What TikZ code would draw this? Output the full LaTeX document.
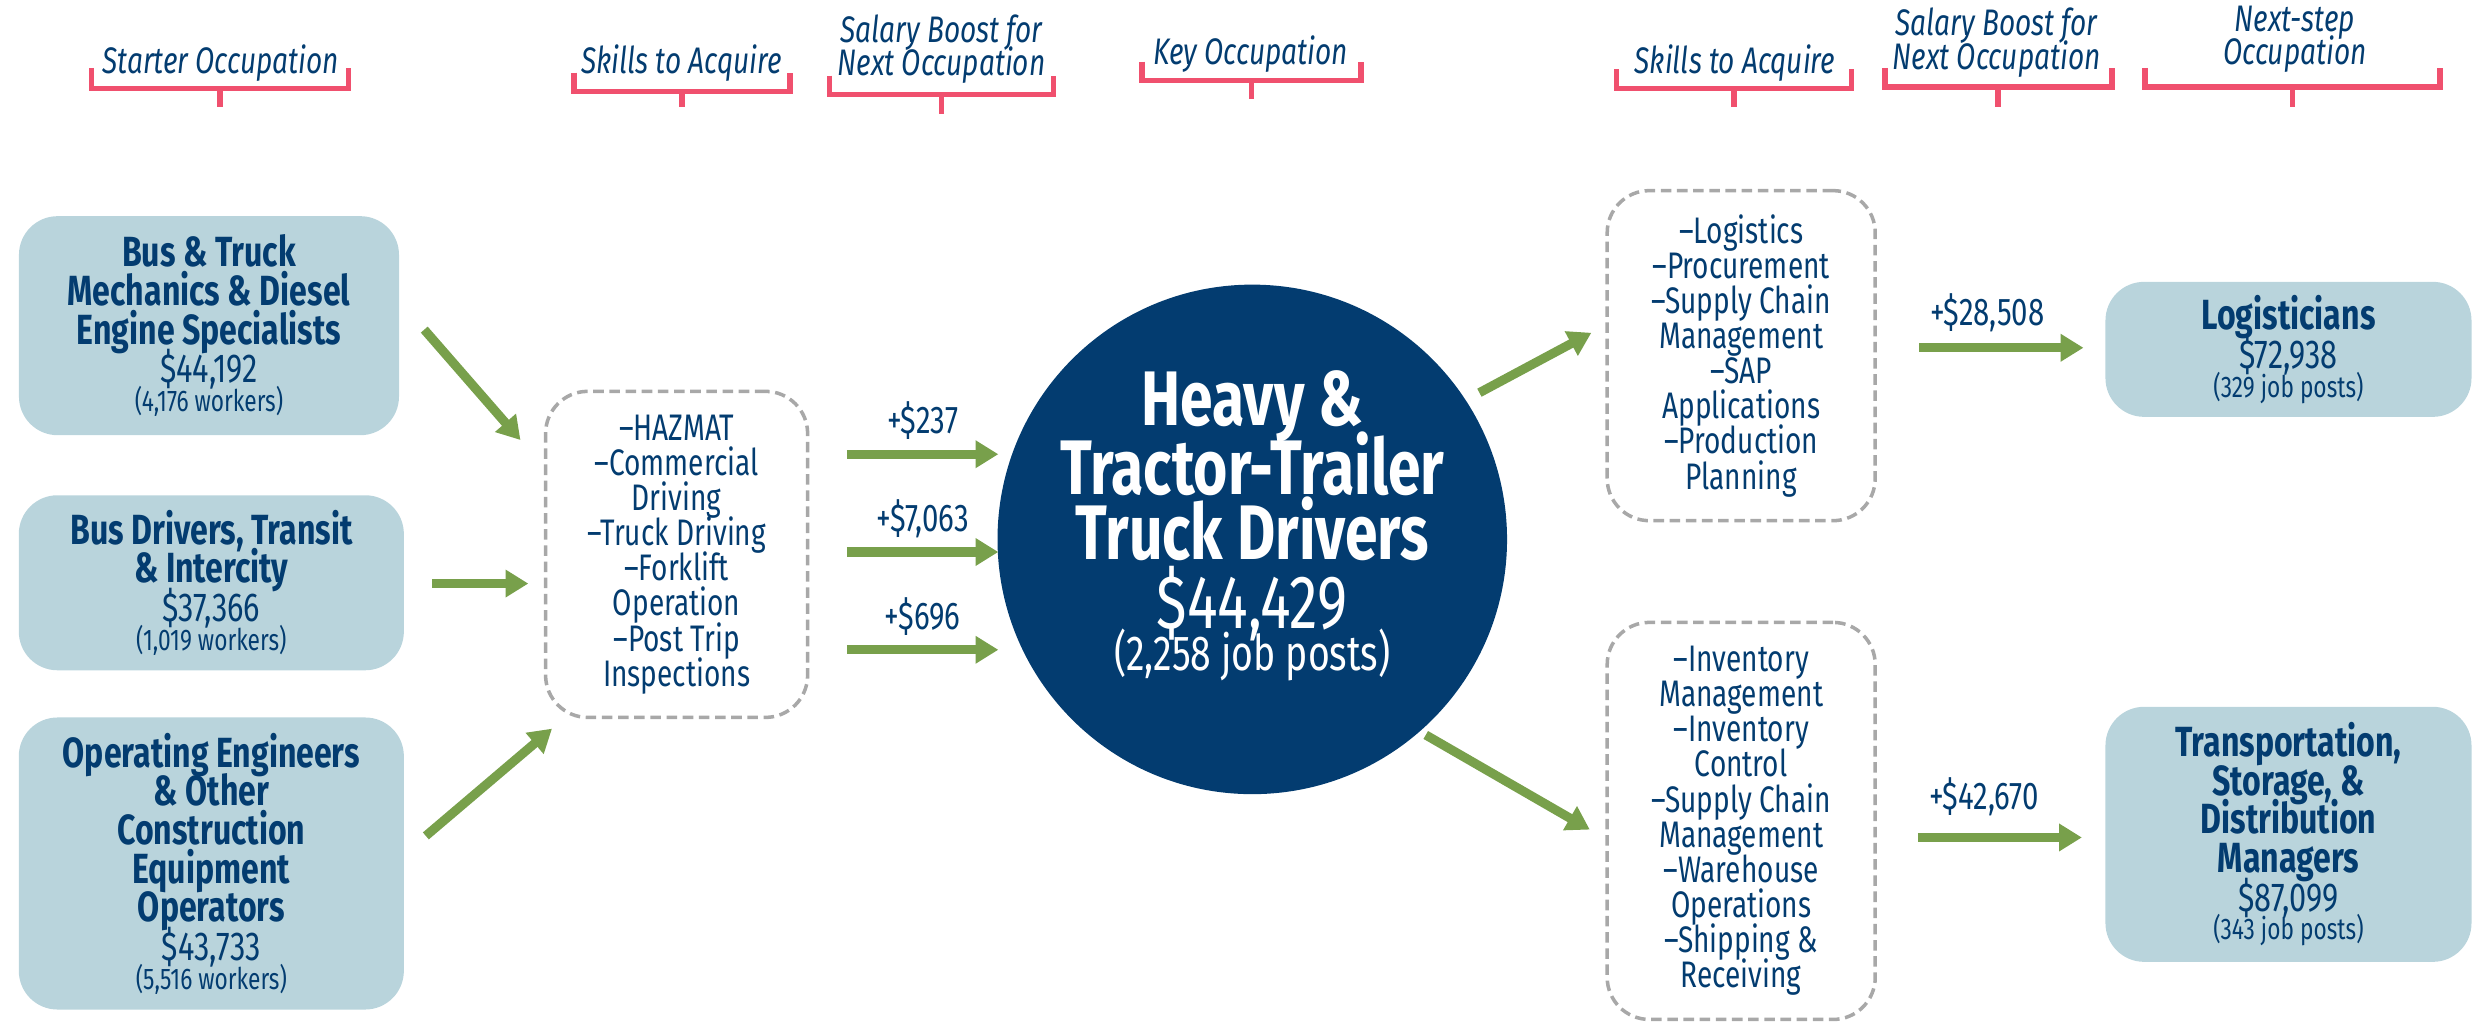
\documentclass[tikz,border=0pt]{standalone}
\usepackage{fontspec}
\setmainfont{Fira Sans}[FakeStretch=0.76]
\usetikzlibrary{arrows.meta}

\definecolor{navy}{HTML}{033C70}
\definecolor{boxblue}{HTML}{B9D4DC}
\definecolor{leafgreen}{HTML}{78A04B}
\definecolor{bracered}{HTML}{F0506E}
\definecolor{dashgray}{HTML}{A8A8A8}

% keep the line spacing fixed, also with tall glyphs
\lineskiplimit=-100pt

% line fonts
\newcommand{\nm}{\bfseries\fontsize{12}{11}\selectfont}
\newcommand{\pay}{\mdseries\fontsize{11.5}{11}\selectfont}
\newcommand{\cnt}{\mdseries\fontsize{8.5}{11}\selectfont}

\tikzset{
  occ/.style={fill=boxblue, rounded corners=11pt, text=navy, align=center, inner sep=0pt, font=\nm},
  skills/.style={draw=dashgray, dash pattern=on 3pt off 1.6pt, line width=1pt, rounded corners=12pt,
    text=navy, align=center, font=\fontsize{10.5}{10}\selectfont, inner sep=0pt},
  hub/.style={circle, fill=navy, text=white, align=center, inner sep=0pt,
    font=\bfseries\fontsize{22}{18.4}\selectfont},
  flow/.style={draw=leafgreen, line width=2.6pt, -{Triangle[length=6.5pt,width=7.5pt]}},
  boost/.style={text=navy, font=\fontsize{11}{12}\selectfont},
  hdr/.style={text=navy, font=\fontsize{10.5}{9.5}\selectfont\itshape, align=center},
  brace/.style={draw=bracered, line width=1.6pt},
}

\begin{document}
\begin{tikzpicture}[x=0.1577mm, y=-0.1577mm]
\useasboundingbox (0,0) rectangle (1568,648);

% ---- column headers
\node[hdr] (hstart) at (140,40) {Starter Occupation};
\node[hdr] (hskl) at (432,40) {Skills to Acquire};
\node[hdr] (hboostl) at (597,31) {Salary Boost for\\Next Occupation};
\node[hdr] (hkey) at (793,34) {Key Occupation};
\node[hdr] (hskr) at (1100,40) {Skills to Acquire};
\node[hdr] (hboostr) at (1266,27) {Salary Boost for\\Next Occupation};
\node[hdr] (hnext) at (1455,25) {Next-step\\Occupation};

% ---- brackets under the headers: left/right/top/bottom/tip
\foreach \l/\r/\t/\b/\p in {58/221/43/56/68, 364/501/46/58/68, 526/668/48/60/72,
  724/863/39/51/63, 1025/1174/44/56/68, 1195/1339/43/55/68, 1360/1547/43/55/68}
  \draw[brace] (\l,\t) -- (\l,\b) -- (\r,\b) -- (\r,\t) ({(\l+\r)/2},\b) -- ({(\l+\r)/2},\p);

% ---- starter occupations
\node[occ, minimum width=38mm, minimum height=21.9mm] (mech) at (132.5,206.5)
  {Bus \& Truck\\Mechanics \& Diesel\\Engine Specialists\\\pay \$44,192\\[-2.8pt]\cnt (4,176 workers)};
\node[occ, minimum width=38.5mm, minimum height=17.5mm] (busdrv) at (134,369.5)
  {Bus Drivers, Transit\\\& Intercity\\\pay \$37,366\\[-2.8pt]\cnt (1,019 workers)};
\node[occ, minimum width=38.5mm, minimum height=29.2mm] (openg) at (134,547.5)
  {Operating Engineers\\\& Other\\Construction\\Equipment\\Operators\\\pay \$43,733\\[-2.8pt]\cnt (5,516 workers)};

% ---- skills towards the key occupation
\node[skills, minimum width=26.2mm, minimum height=32.6mm] (sklin) at (429,351.5)
  {--HAZMAT\\--Commercial\\Driving\\--Truck Driving\\--Forklift\\Operation\\--Post Trip\\Inspections};

% ---- key occupation
\node[hub, minimum size=47.9mm] (key) at (794,342)
  {Heavy \&\\[1.3pt]Tractor-Trailer\\Truck Drivers\\[1.2pt]\mdseries\fontsize{21.5}{18.4}\selectfont \$44,429\\[-6.5pt]
   \mdseries\fontsize{14}{18.4}\selectfont (2,258 job posts)\rule[-10.7pt]{0pt}{10.7pt}};

% ---- skills towards the next steps
\node[skills, minimum width=26.8mm, minimum height=33mm] (sklup) at (1104,225.5)
  {--Logistics\\--Procurement\\--Supply Chain\\Management\\--SAP\\Applications\\--Production\\Planning};
\node[skills, minimum width=26.8mm, minimum height=39.7mm] (skldown) at (1104,520.5)
  {--Inventory\\Management\\--Inventory\\Control\\--Supply Chain\\Management\\--Warehouse\\Operations\\--Shipping \&\\Receiving};

% ---- next-step occupations
\node[occ, minimum width=36.6mm, minimum height=13.5mm] (logis) at (1451,221.5)
  {Logisticians\\\pay \$72,938\\[-2.8pt]\cnt (329 job posts)};
\node[occ, minimum width=36.6mm, minimum height=25.5mm] (tsdm) at (1451,529)
  {Transportation,\\Storage, \&\\Distribution\\Managers\\\pay \$87,099\\[-2.8pt]\cnt (343 job posts)};

% ---- arrow ends
\coordinate (mechout) at (269,209);  \coordinate (in1) at (330,279);
\coordinate (busout) at (274,370);   \coordinate (in2) at (335,370);
\coordinate (opout) at (270,530);    \coordinate (in3) at (350,462);
\coordinate (b1s) at (537,288);      \coordinate (b1e) at (633,288);
\coordinate (b2s) at (537,350);      \coordinate (b2e) at (633,350);
\coordinate (b3s) at (537,412);      \coordinate (b3e) at (633,412);
\coordinate (keyup) at (938,249);    \coordinate (upin) at (1009,211);
\coordinate (keydown) at (904,466);  \coordinate (downin) at (1008,526);
\coordinate (r1s) at (1217,220.5);   \coordinate (r1e) at (1321,220.5);
\coordinate (r2s) at (1216,531);     \coordinate (r2e) at (1320,531);

\draw[flow] (mechout) -- (in1);
\draw[flow] (busout) -- (in2);
\draw[flow] (opout) -- (in3);
\draw[flow] (b1s) -- node[boost, above=-0.5pt] {+\$237} (b1e);
\draw[flow] (b2s) -- node[boost, above=-0.5pt] {+\$7,063} (b2e);
\draw[flow] (b3s) -- node[boost, above=-0.5pt] {+\$696} (b3e);
\draw[flow] (keyup) -- (upin);
\draw[flow] (keydown) -- (downin);
\draw[flow] (r1s) -- node[boost, above=0pt, xshift=-4pt] {+\$28,508} (r1e);
\draw[flow] (r2s) -- node[boost, above=1.5pt, xshift=-4.5pt] {+\$42,670} (r2e);

\end{tikzpicture}
\end{document}
